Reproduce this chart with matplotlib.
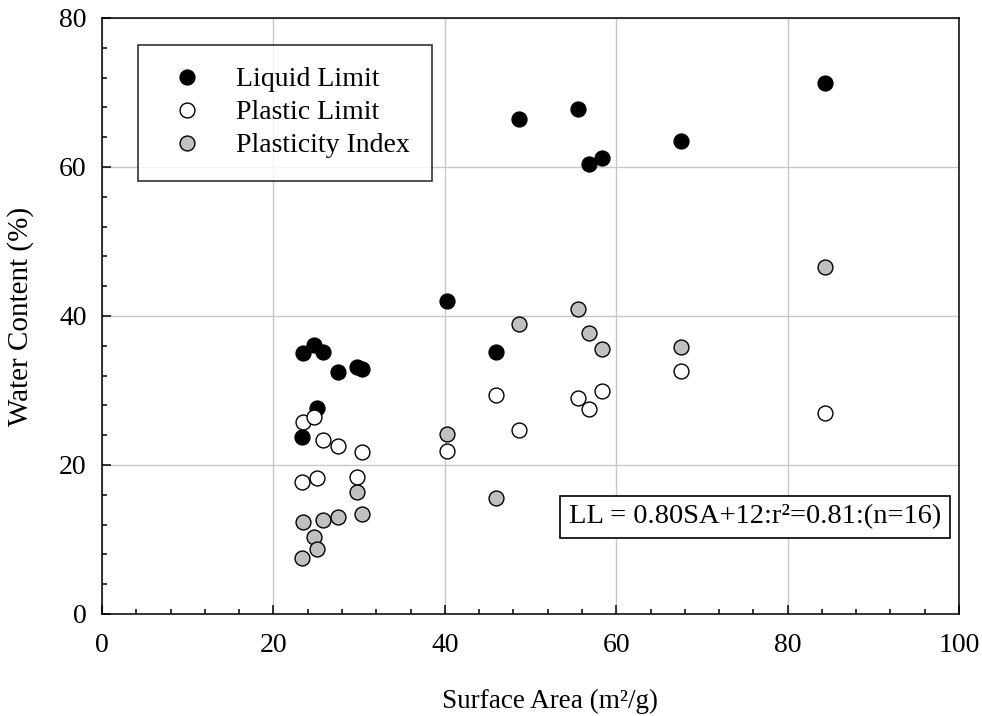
import matplotlib
matplotlib.use("Agg")
import matplotlib.pyplot as plt
from matplotlib.ticker import MultipleLocator

plt.rcParams['font.family'] = ['Liberation Serif', 'DejaVu Serif']

# surface area of each sample (m2/g) and its Atterberg limits (%)
surface_area = [23.3, 23.5, 24.7, 25.1, 25.8, 27.5, 29.8, 30.3,
                40.2, 46.0, 48.6, 55.5, 56.8, 58.3, 67.6, 84.4]
liquid_limit = [23.8, 35.0, 36.1, 27.6, 35.1, 32.5, 33.2, 32.9,
                42.0, 35.2, 66.4, 67.8, 60.4, 61.2, 63.5, 71.3]
plastic_limit = [17.7, 25.8, 26.4, 18.3, 23.4, 22.5, 18.4, 21.7,
                 21.9, 29.4, 24.7, 29.0, 27.5, 29.9, 32.6, 27.0]
plasticity_index = [7.5, 12.3, 10.3, 8.7, 12.6, 13.0, 16.4, 13.4,
                    24.2, 15.6, 38.9, 40.9, 37.7, 35.6, 35.8, 46.6]

fit_text = "LL = 0.80SA+12:r\u00b2=0.81:(n=16)"

fs = 20

fig = plt.figure(figsize=(9.82, 7.16), dpi=100)
ax = fig.add_axes([0.1039, 0.1425, 0.8727, 0.8324])

ms = 10.7
ax.plot(surface_area, liquid_limit, 'o', ms=ms, mfc='black', mec='black',
        mew=1.0, label='Liquid Limit', zorder=3)
ax.plot(surface_area, plastic_limit, 'o', ms=ms, mfc='white', mec='black',
        mew=1.0, label='Plastic Limit', zorder=3)
ax.plot(surface_area, plasticity_index, 'o', ms=ms, mfc='#c0c0c0', mec='black',
        mew=1.0, label='Plasticity Index', zorder=3)

ax.set_xlim(0, 100)
ax.set_ylim(0, 80)
ax.xaxis.set_major_locator(MultipleLocator(20))
ax.xaxis.set_minor_locator(MultipleLocator(4))
ax.yaxis.set_major_locator(MultipleLocator(20))
ax.yaxis.set_minor_locator(MultipleLocator(4))
ax.tick_params(which='both', direction='in', width=1.1, labelsize=fs, colors='black')
ax.tick_params(which='major', length=6.5)
ax.tick_params(which='minor', length=3.6)
ax.tick_params(axis='x', which='major', pad=14)
ax.tick_params(axis='y', which='major', pad=11)
ax.grid(True, which='major', color='#c8c8c8', linewidth=1.0, zorder=0)
ax.set_axisbelow(True)
for s in ax.spines.values():
    s.set_linewidth(1.1)

ax.set_xlabel("Surface Area (m\u00b2/g)", fontsize=19.5)
ax.set_ylabel("Water Content (%)", fontsize=21)
ax.xaxis.set_label_coords(0.523, -0.125)
ax.yaxis.set_label_coords(-0.079, 0.5)

leg = ax.legend(loc='upper left', bbox_to_anchor=(0.042, 0.955), borderaxespad=0,
                fontsize=fs, frameon=True, fancybox=False, edgecolor='black',
                borderpad=0.8, handlelength=1.93, handletextpad=0.79,
                labelspacing=0.27, numpoints=1)
leg.get_frame().set_linewidth(1.2)

ax.text(0.762, 0.163, fit_text, transform=ax.transAxes, fontsize=20.5,
        ha='center', va='center',
        bbox=dict(boxstyle='square,pad=0.3', fc='white', ec='black', lw=1.2))

fig.savefig('out.png', dpi=100)
